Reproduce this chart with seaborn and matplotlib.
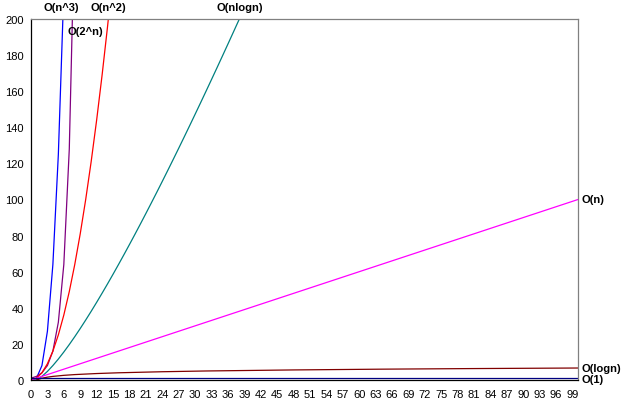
import numpy as np
import pandas as pd
import seaborn as sns
import matplotlib.pyplot as plt

# values (only the part below the 200 cut-off matters)
x_n3 = [0, 1, 2, 3, 4, 5, 6]
y_n3 = [0, 1, 8, 27, 64, 125, 216]

x_2n = [0, 1, 2, 3, 4, 5, 6, 7, 8]
y_2n = [1, 2, 4, 8, 16, 32, 64, 128, 256]

x_n2 = [0, 1, 2, 3, 4, 5, 6, 7, 8, 9, 10, 11, 12, 13, 14, 15]
y_n2 = [0, 1, 4, 9, 16, 25, 36, 49, 64, 81, 100, 121, 144, 169, 196, 225]

x_nlogn = [0, 1, 2, 3, 4, 5, 6, 7, 8, 9, 10, 11, 12, 13, 14, 15, 16, 17, 18, 19,
           20, 21, 22, 23, 24, 25, 26, 27, 28, 29, 30, 31, 32, 33, 34, 35, 36, 37, 38, 39]
y_nlogn = [0, 0, 2, 4.75, 8, 11.61, 15.51, 19.65, 24, 28.53, 33.22, 38.05, 43.02, 48.11,
           53.3, 58.6, 64, 69.49, 75.06, 80.71, 86.44, 92.24, 98.11, 104.04, 110.04,
           116.1, 122.21, 128.38, 134.6, 140.88, 147.21, 153.58, 160, 166.47, 172.97,
           179.52, 186.11, 192.74, 199.4, 206.11]

x_n = [0, 100]
y_n = [0, 100]

x_logn = [1, 2, 3, 4, 6, 8, 12, 16, 24, 32, 48, 64, 80, 100]
y_logn = [0, 1, 1.58, 2, 2.58, 3, 3.58, 4, 4.58, 5, 5.58, 6, 6.32, 6.64]

x_1 = [0, 100]
y_1 = [1, 1]

series = [('O(n^3)', x_n3, y_n3), ('O(2^n)', x_2n, y_2n), ('O(n^2)', x_n2, y_n2),
          ('O(nlogn)', x_nlogn, y_nlogn), ('O(n)', x_n, y_n),
          ('O(logn)', x_logn, y_logn), ('O(1)', x_1, y_1)]
colors = {'O(n^3)': '#0000ff', 'O(2^n)': '#800080', 'O(n^2)': '#ff0000',
          'O(nlogn)': '#008080', 'O(n)': '#ff00ff', 'O(logn)': '#800000', 'O(1)': '#000080'}

df = pd.concat([pd.DataFrame({'n': xs, 'val': ys, 'name': nm}) for nm, xs, ys in series],
               ignore_index=True)

sns.set_style("white")
plt.rcParams['font.family'] = ['Liberation Sans', 'DejaVu Sans']
plt.rcParams['text.color'] = 'black'
plt.rcParams['xtick.color'] = 'black'
plt.rcParams['ytick.color'] = 'black'

fig = plt.figure(figsize=(6.25, 4.1), dpi=100)
ax = fig.add_axes([31/625, 29/410, 547/625, 361/410])

sns.lineplot(data=df, x='n', y='val', hue='name', palette=colors, legend=False,
             ax=ax, linewidth=0.9, sort=False, estimator=None)

ax.set_xlim(0, 100)
ax.set_ylim(0, 200)
ax.set_xlabel('')
ax.set_ylabel('')
ax.set_xticks(range(0, 101))
ax.set_xticklabels([str(i) if i % 3 == 0 else '' for i in range(0, 101)], fontsize=8)
ax.set_yticks(range(0, 201, 20))
ax.set_yticklabels([str(v) for v in range(0, 201, 20)], fontsize=8)
ax.tick_params(axis='x', direction='out', length=3.8, width=0.8, color='black', pad=3)
ax.tick_params(axis='y', direction='inout', length=6, width=0.8, color='black', pad=2)

for s in ['left', 'bottom']:
    ax.spines[s].set_color('black')
    ax.spines[s].set_linewidth(0.9)
for s in ['top', 'right']:
    ax.spines[s].set_color('#808080')
    ax.spines[s].set_linewidth(0.9)

kw = dict(fontsize=8, fontweight='bold', clip_on=False, color='black')
ax.text(5.5, 206.8, 'O(n^3)', ha='center', va='center', **kw)
ax.text(14.2, 206.8, 'O(n^2)', ha='center', va='center', **kw)
ax.text(6.6, 193.5, 'O(2^n)', ha='left', va='center', **kw)
ax.text(38.2, 206.8, 'O(nlogn)', ha='center', va='center', **kw)
ax.text(100.6, 100, 'O(n)', ha='left', va='center', **kw)
ax.text(100.6, 6.8, 'O(logn)', ha='left', va='center', **kw)
ax.text(100.6, 0.5, 'O(1)', ha='left', va='center', **kw)

fig.savefig('out.png', dpi=100)
